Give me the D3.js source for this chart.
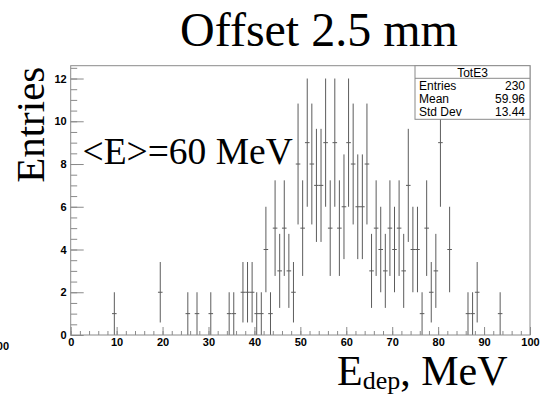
<!DOCTYPE html>
<html>
<head>
<meta charset="utf-8">
<script src="https://cdn.jsdelivr.net/npm/d3@7"></script>
<style>
  html, body { margin: 0; padding: 0; background: #fff; }
  svg { display: block; }
  .tick text { font-family: "Liberation Sans", Arial, sans-serif; font-weight: bold; font-size: 11px; fill: #000; }
  .serif { font-family: "Liberation Serif", "Times New Roman", serif; fill: #000; }
  .stat { font-family: "Liberation Sans", Arial, sans-serif; font-size: 12px; fill: #000; }
</style>
</head>
<body>
<svg id="chart" width="542" height="395"></svg>
<script>
// Histogram TotE3: 1 MeV bins on [0, 100); only non-empty bins are listed
const binLowEdges = [9, 19, 25, 27, 30, 34, 35, 37, 38, 39, 40, 41, 42, 43, 44, 45, 46, 47, 48, 49,
                     50, 51, 52, 53, 54, 55, 56, 57, 58, 59, 60, 61, 62, 63, 64, 65, 66, 67, 68, 69,
                     70, 71, 72, 73, 74, 75, 76, 77, 78, 79, 80, 82, 86, 87, 88, 93];
const binCounts   = [1, 2, 1, 1, 1, 1, 1, 2, 2, 2, 1, 1, 4, 1, 5, 3, 5, 3, 2, 8,
                     5, 9, 8, 7, 7, 9, 5, 9, 5, 6, 9, 8, 6, 6, 8, 3, 5, 4, 3, 5,
                     4, 5, 3, 7, 4, 4, 1, 5, 2, 3, 9, 4, 1, 1, 2, 1];
const binWidth = 1;

// Axis ticks
const xMajorTicks = [0, 10, 20, 30, 40, 50, 60, 70, 80, 90, 100];
const xMinorTicks = d3.range(0, 100.01, 2);
const yMajorTicks = [0, 2, 4, 6, 8, 10, 12];
const yMinorTicks = d3.range(0, 12.51, 0.5);

// Statistics box
const statsTitle = "TotE3";
const statsNames = ["Entries", "Mean", "Std Dev"];
const statsValues = ["230", "59.96", "13.44"];

// Texts
const plotTitle = "Offset 2.5 mm";
const annotation = "<E>=60 MeV";

const svg = d3.select("#chart");
const frame = { left: 70.7, right: 530, top: 65.7, bottom: 335 };

const x = d3.scaleLinear().domain([0, 100]).range([frame.left, frame.right]);
const y = d3.scaleLinear().domain([0, 12.6]).range([frame.bottom, frame.top]);

const frameColor = "#8a8a8a";
const barColor = "#5c5c5c";

// Minor ticks
svg.append("g")
  .attr("transform", `translate(0,${frame.bottom})`)
  .call(d3.axisBottom(x).tickValues(xMinorTicks).tickSize(-4).tickFormat(""))
  .call(g => g.select(".domain").remove())
  .call(g => g.selectAll("line").attr("stroke", frameColor));
svg.append("g")
  .attr("transform", `translate(${frame.left},0)`)
  .call(d3.axisLeft(y).tickValues(yMinorTicks).tickSize(-6.5).tickFormat(""))
  .call(g => g.select(".domain").remove())
  .call(g => g.selectAll("line").attr("stroke", frameColor));

// Major ticks with labels
svg.append("g")
  .attr("transform", `translate(0,${frame.bottom})`)
  .call(d3.axisBottom(x).tickValues(xMajorTicks).tickSize(-8).tickPadding(3).tickFormat(d3.format("d")))
  .call(g => g.select(".domain").remove())
  .call(g => g.selectAll("line").attr("stroke", frameColor));
svg.append("g")
  .attr("transform", `translate(${frame.left},0)`)
  .call(d3.axisLeft(y).tickValues(yMajorTicks).tickSize(-13).tickPadding(4).tickFormat(d3.format("d")))
  .call(g => g.select(".domain").remove())
  .call(g => g.selectAll("line").attr("stroke", frameColor));

// Error bars (Poisson) with a horizontal mark across each bin
const bins = binLowEdges.map((lo, i) => ({ lo, n: binCounts[i] }));
const ymax = y.domain()[1];
const gBars = svg.append("g").attr("stroke", barColor).attr("stroke-width", 1);
gBars.selectAll("line.err").data(bins).join("line")
  .attr("class", "err")
  .attr("x1", d => x(d.lo + binWidth / 2)).attr("x2", d => x(d.lo + binWidth / 2))
  .attr("y1", d => y(Math.max(0, d.n - Math.sqrt(d.n))))
  .attr("y2", d => y(Math.min(ymax, d.n + Math.sqrt(d.n))));
gBars.selectAll("line.val").data(bins).join("line")
  .attr("class", "val")
  .attr("x1", d => x(d.lo)).attr("x2", d => x(d.lo + binWidth))
  .attr("y1", d => y(d.n)).attr("y2", d => y(d.n));

// Frame
svg.append("rect")
  .attr("x", frame.left).attr("y", frame.top)
  .attr("width", frame.right - frame.left).attr("height", frame.bottom - frame.top)
  .attr("fill", "none").attr("stroke", frameColor);

// Statistics box
const box = { left: 415, right: frame.right, top: frame.top, titleBottom: 78.3, bottom: 119.3 };
svg.append("rect")
  .attr("x", box.left).attr("y", box.top)
  .attr("width", box.right - box.left).attr("height", box.bottom - box.top)
  .attr("fill", "#fff").attr("stroke", frameColor);
svg.append("line")
  .attr("x1", box.left).attr("x2", box.right)
  .attr("y1", box.titleBottom).attr("y2", box.titleBottom)
  .attr("stroke", frameColor);
svg.append("text").attr("class", "stat")
  .attr("x", (box.left + box.right) / 2).attr("y", 76.5)
  .attr("text-anchor", "middle").text(statsTitle);
const rowY = [90, 102.8, 115.6];
statsNames.forEach((name, i) => {
  svg.append("text").attr("class", "stat").attr("x", box.left + 4).attr("y", rowY[i]).text(name);
  svg.append("text").attr("class", "stat").attr("x", box.right - 5).attr("y", rowY[i])
    .attr("text-anchor", "end").text(statsValues[i]);
});

// Titles
svg.append("text").attr("class", "serif")
  .attr("x", 319).attr("y", 46).attr("text-anchor", "middle")
  .style("font-size", "48px").text(plotTitle);

svg.append("text").attr("class", "serif")
  .attr("transform", `translate(44,${frame.top + 1}) rotate(-90)`)
  .attr("text-anchor", "end")
  .style("font-size", "41px").text("Entries");

const xt = svg.append("text").attr("class", "serif")
  .attr("x", 337).attr("y", 385)
  .style("font-size", "42px");
xt.append("tspan").text("E");
xt.append("tspan").attr("dy", 4).style("font-size", "26px").text("dep");
xt.append("tspan").attr("dy", -4).text(", MeV");

svg.append("text").attr("class", "serif")
  .attr("x", 82.5).attr("y", 163.5)
  .style("font-size", "37.5px").text(annotation);

// Edge of the neighbouring panel's axis label
svg.append("text")
  .attr("x", 9).attr("y", 350).attr("text-anchor", "end")
  .style("font-family", "Liberation Sans, Arial, sans-serif")
  .style("font-weight", "bold").style("font-size", "11px")
  .text("100");
</script>
</body>
</html>
